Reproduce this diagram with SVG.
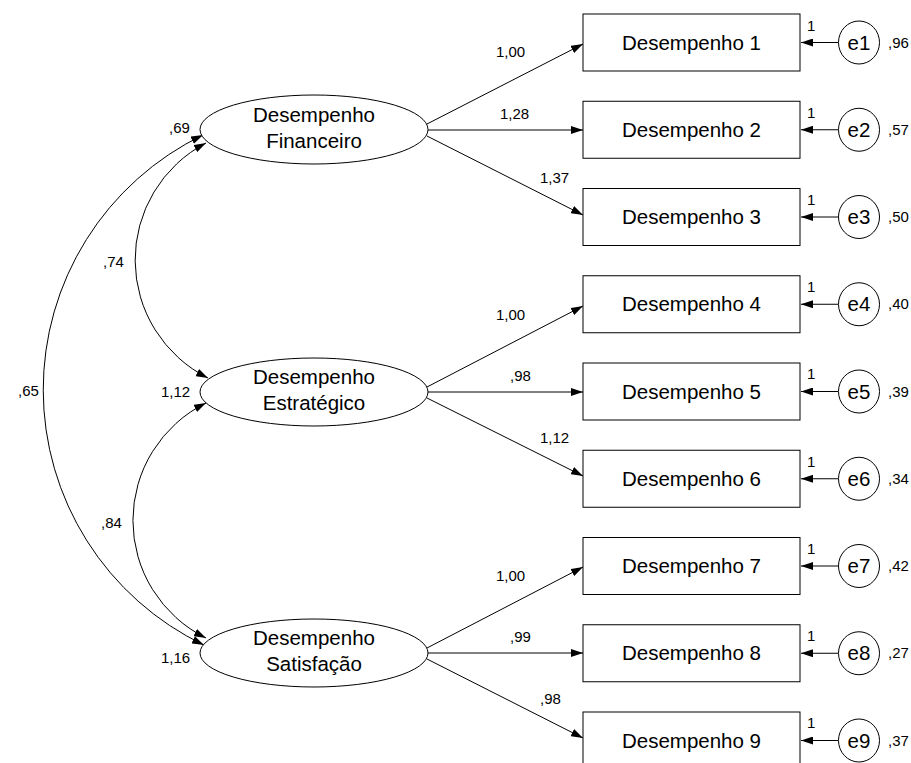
<svg xmlns="http://www.w3.org/2000/svg" width="911" height="763" viewBox="0 0 911 763">
  <style>
    .node { fill: #ffffff; stroke: #000000; stroke-width: 1; }
    .lbl { font-family: "Liberation Sans", Arial, sans-serif; font-size: 20.5px; fill: #000000; text-anchor: middle; }
    .num { font-family: "Liberation Sans", Arial, sans-serif; font-size: 15px; fill: #000000; }
    .conn { fill: none; stroke: #000000; stroke-width: 1; }
  </style>
  <defs>
    <marker id="ah" markerUnits="userSpaceOnUse" markerWidth="12" markerHeight="8" refX="12" refY="4" orient="auto-start-reverse">
      <path d="M0,0 L12,4 L0,8 z" fill="#000000"/>
    </marker>
  </defs>
  <rect width="911" height="763" fill="#ffffff"/>

  <!-- connectors -->
  <g id="connectors">
    <!-- covariances between latent factors -->
    <path class="conn" d="M203,135 A283,283 0 0,0 204,645" marker-start="url(#ah)" marker-end="url(#ah)"/>
    <path class="conn" d="M206,143 A132,132 0 0,0 208,378" marker-start="url(#ah)" marker-end="url(#ah)"/>
    <path class="conn" d="M206,403 A131,131 0 0,0 206,638" marker-start="url(#ah)" marker-end="url(#ah)"/>

    <!-- loadings: Desempenho Financeiro -->
    <path class="conn" d="M427,124 L583,44" marker-end="url(#ah)"/>
    <path class="conn" d="M428,130 L583,130" marker-end="url(#ah)"/>
    <path class="conn" d="M427,136 L583,215" marker-end="url(#ah)"/>
    <!-- loadings: Desempenho Estratégico -->
    <path class="conn" d="M427,387 L583,306" marker-end="url(#ah)"/>
    <path class="conn" d="M428,392 L583,392" marker-end="url(#ah)"/>
    <path class="conn" d="M427,398 L583,476" marker-end="url(#ah)"/>
    <!-- loadings: Desempenho Satisfação -->
    <path class="conn" d="M427,648 L583,567" marker-end="url(#ah)"/>
    <path class="conn" d="M428,653 L583,653" marker-end="url(#ah)"/>
    <path class="conn" d="M427,659 L583,738" marker-end="url(#ah)"/>

    <!-- error terms -->
    <path class="conn" d="M838,42.5 L801,42.5" marker-end="url(#ah)"/>
    <path class="conn" d="M838,129.75 L801,129.75" marker-end="url(#ah)"/>
    <path class="conn" d="M838,217 L801,217" marker-end="url(#ah)"/>
    <path class="conn" d="M838,304.25 L801,304.25" marker-end="url(#ah)"/>
    <path class="conn" d="M838,391.5 L801,391.5" marker-end="url(#ah)"/>
    <path class="conn" d="M838,478.75 L801,478.75" marker-end="url(#ah)"/>
    <path class="conn" d="M838,566 L801,566" marker-end="url(#ah)"/>
    <path class="conn" d="M838,653.25 L801,653.25" marker-end="url(#ah)"/>
    <path class="conn" d="M838,740.5 L801,740.5" marker-end="url(#ah)"/>

    <!-- coefficient labels -->
    <text class="num" x="18" y="396">,65</text>
    <text class="num" x="103" y="267">,74</text>
    <text class="num" x="101" y="528">,84</text>

    <text class="num" x="496" y="57">1,00</text>
    <text class="num" x="500" y="119">1,28</text>
    <text class="num" x="540" y="183">1,37</text>
    <text class="num" x="496" y="320">1,00</text>
    <text class="num" x="510" y="381">,98</text>
    <text class="num" x="540" y="443">1,12</text>
    <text class="num" x="496" y="581">1,00</text>
    <text class="num" x="510" y="642">,99</text>
    <text class="num" x="540" y="704">,98</text>

    <text class="num" x="807" y="31">1</text>
    <text class="num" x="807" y="118">1</text>
    <text class="num" x="807" y="205">1</text>
    <text class="num" x="807" y="292">1</text>
    <text class="num" x="807" y="379">1</text>
    <text class="num" x="807" y="467">1</text>
    <text class="num" x="807" y="554">1</text>
    <text class="num" x="807" y="641">1</text>
    <text class="num" x="807" y="728">1</text>
  </g>

  <!-- latent factors -->
  <g id="f1">
    <ellipse class="node" cx="314" cy="129.5" rx="114" ry="34.5"/>
    <text class="lbl" x="314" y="122">Desempenho</text>
    <text class="lbl" x="314" y="148">Financeiro</text>
    <text class="num" x="169" y="133">,69</text>
  </g>
  <g id="f2">
    <ellipse class="node" cx="314" cy="392" rx="114" ry="34"/>
    <text class="lbl" x="314" y="384">Desempenho</text>
    <text class="lbl" x="314" y="410">Estratégico</text>
    <text class="num" x="161" y="397">1,12</text>
  </g>
  <g id="f3">
    <ellipse class="node" cx="314" cy="653" rx="114" ry="34"/>
    <text class="lbl" x="314" y="645">Desempenho</text>
    <text class="lbl" x="314" y="671">Satisfação</text>
    <text class="num" x="161" y="663">1,16</text>
  </g>

  <!-- observed indicators -->
  <g id="d1"><rect class="node" x="583" y="14" width="217" height="57"/><text class="lbl" x="691.5" y="49.5">Desempenho 1</text></g>
  <g id="d2"><rect class="node" x="583" y="101.25" width="217" height="57"/><text class="lbl" x="691.5" y="136.75">Desempenho 2</text></g>
  <g id="d3"><rect class="node" x="583" y="188.5" width="217" height="57"/><text class="lbl" x="691.5" y="224">Desempenho 3</text></g>
  <g id="d4"><rect class="node" x="583" y="275.75" width="217" height="57"/><text class="lbl" x="691.5" y="311.25">Desempenho 4</text></g>
  <g id="d5"><rect class="node" x="583" y="363" width="217" height="57"/><text class="lbl" x="691.5" y="398.5">Desempenho 5</text></g>
  <g id="d6"><rect class="node" x="583" y="450.25" width="217" height="57"/><text class="lbl" x="691.5" y="485.75">Desempenho 6</text></g>
  <g id="d7"><rect class="node" x="583" y="537.5" width="217" height="57"/><text class="lbl" x="691.5" y="573">Desempenho 7</text></g>
  <g id="d8"><rect class="node" x="583" y="624.75" width="217" height="57"/><text class="lbl" x="691.5" y="660.25">Desempenho 8</text></g>
  <g id="d9"><rect class="node" x="583" y="712" width="217" height="57"/><text class="lbl" x="691.5" y="747.5">Desempenho 9</text></g>

  <!-- error terms -->
  <g id="e1"><ellipse class="node" cx="859" cy="42.5" rx="20.5" ry="21.5"/><text class="lbl" x="859" y="49.5">e1</text><text class="num" x="888" y="48">,96</text></g>
  <g id="e2"><ellipse class="node" cx="859" cy="129.75" rx="20.5" ry="21.5"/><text class="lbl" x="859" y="136.75">e2</text><text class="num" x="888" y="135">,57</text></g>
  <g id="e3"><ellipse class="node" cx="859" cy="217" rx="20.5" ry="21.5"/><text class="lbl" x="859" y="224">e3</text><text class="num" x="888" y="222">,50</text></g>
  <g id="e4"><ellipse class="node" cx="859" cy="304.25" rx="20.5" ry="21.5"/><text class="lbl" x="859" y="311.25">e4</text><text class="num" x="888" y="309">,40</text></g>
  <g id="e5"><ellipse class="node" cx="859" cy="391.5" rx="20.5" ry="21.5"/><text class="lbl" x="859" y="398.5">e5</text><text class="num" x="888" y="397">,39</text></g>
  <g id="e6"><ellipse class="node" cx="859" cy="478.75" rx="20.5" ry="21.5"/><text class="lbl" x="859" y="485.75">e6</text><text class="num" x="888" y="484">,34</text></g>
  <g id="e7"><ellipse class="node" cx="859" cy="566" rx="20.5" ry="21.5"/><text class="lbl" x="859" y="573">e7</text><text class="num" x="888" y="571">,42</text></g>
  <g id="e8"><ellipse class="node" cx="859" cy="653.25" rx="20.5" ry="21.5"/><text class="lbl" x="859" y="660.25">e8</text><text class="num" x="888" y="658">,27</text></g>
  <g id="e9"><ellipse class="node" cx="859" cy="740.5" rx="20.5" ry="21.5"/><text class="lbl" x="859" y="747.5">e9</text><text class="num" x="888" y="746">,37</text></g>
</svg>
